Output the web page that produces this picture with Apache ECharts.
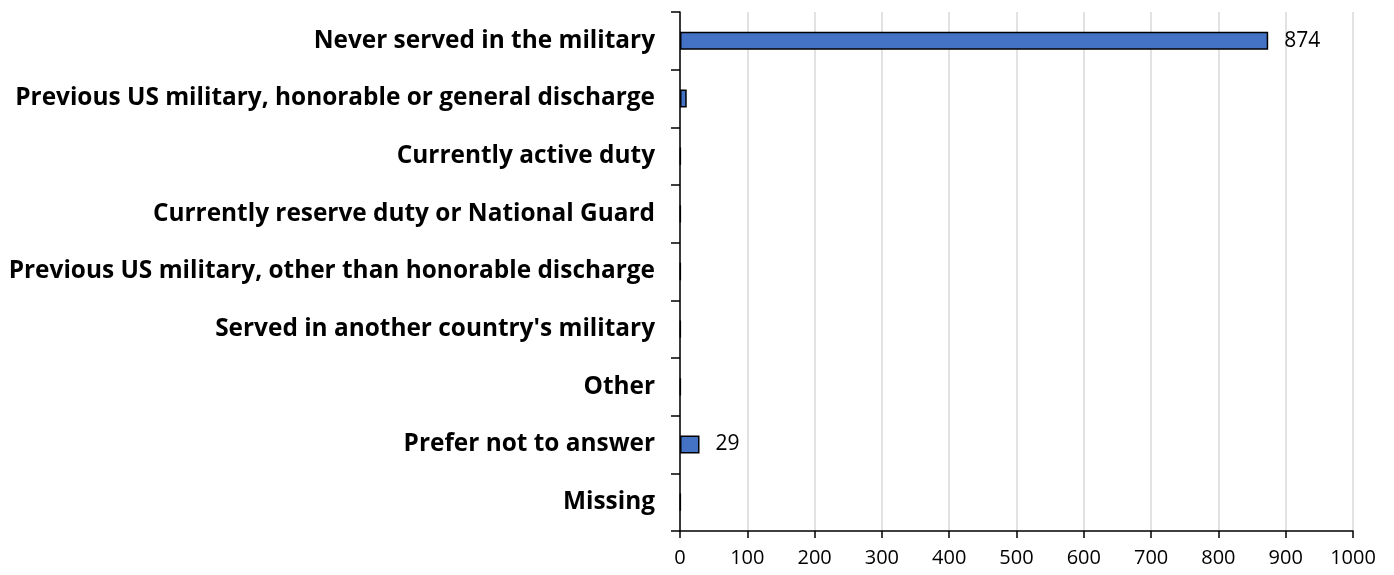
<!DOCTYPE html>
<html>
<head>
<meta charset="utf-8">
<script src="https://cdn.jsdelivr.net/npm/echarts@6/dist/echarts.min.js"></script>
<style>
  html, body { margin: 0; padding: 0; background: #fff; }
  #chart { width: 1394px; height: 575px; }
</style>
</head>
<body>
<div id="chart"></div>
<script>
// Military service status of respondents (counts)
const categories = [
  "Never served in the military",
  "Previous US military, honorable or general discharge",
  "Currently active duty",
  "Currently reserve duty or National Guard",
  "Previous US military, other than honorable discharge",
  "Served in another country's military",
  "Other",
  "Prefer not to answer",
  "Missing"
];
const counts = [874, 10, 1, 1, 1, 1, 1, 29, 1];
// Only these counts carry a value label
const labeledCounts = [874, 29];
const xTicks = [0, 100, 200, 300, 400, 500, 600, 700, 800, 900, 1000];

const chart = echarts.init(document.getElementById('chart'), null, { renderer: 'canvas' });

const labelFont = '"Open Sans", "Noto Sans", sans-serif';

chart.setOption({
  animation: false,
  backgroundColor: '#ffffff',
  grid: { left: 680, right: 41, top: 12, bottom: 44, containLabel: false },
  xAxis: {
    type: 'value',
    min: xTicks[0],
    max: xTicks[xTicks.length - 1],
    interval: xTicks[1] - xTicks[0],
    axisLine: { show: true, lineStyle: { color: '#000', width: 1.5 } },
    axisTick: { show: true, length: 7, lineStyle: { color: '#000', width: 1.5 } },
    axisLabel: {
      color: '#000', fontSize: 20, fontFamily: labelFont, margin: 17,
      formatter: v => String(v)
    },
    splitLine: { show: true, lineStyle: { color: '#d9d9d9', width: 1.5 } }
  },
  yAxis: {
    type: 'category',
    data: categories,
    inverse: true,
    axisLine: { show: true, lineStyle: { color: '#000', width: 1.5 } },
    axisTick: { show: true, length: 9, alignWithLabel: false, lineStyle: { color: '#000', width: 1.5 } },
    axisLabel: { color: '#000', fontSize: 24.4, fontWeight: 'bold', fontFamily: labelFont, margin: 25 },
    splitLine: { show: false }
  },
  series: [{
    type: 'bar',
    data: counts,
    barWidth: 18,
    itemStyle: { color: '#4472c4', borderColor: '#000', borderWidth: 1.5 },
    label: {
      show: true,
      position: 'right',
      distance: 16,
      color: '#000',
      fontSize: 21,
      fontFamily: labelFont,
      formatter: p => labeledCounts.includes(p.value) ? String(p.value) : ''
    }
  }]
});
</script>
</body>
</html>
